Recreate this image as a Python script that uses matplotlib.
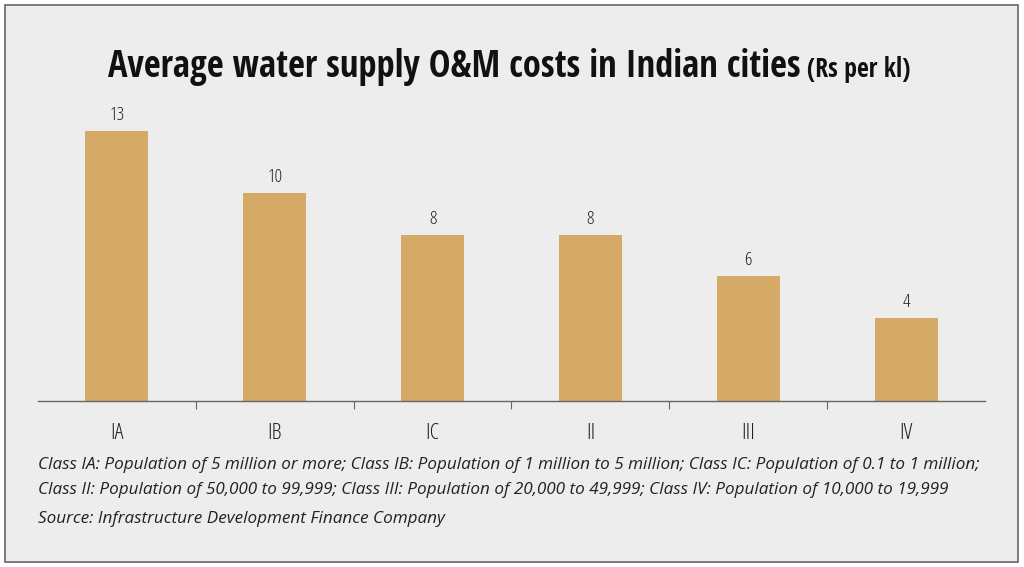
import matplotlib.pyplot as plt
from matplotlib.patches import Rectangle

categories = ["IA", "IB", "IC", "II", "III", "IV"]
costs = [13, 10, 8, 8, 6, 4]

title_main = "Average water supply O&M costs in Indian cities"
title_unit = "(Rs per kl)"
note_1 = ("Class IA: Population of 5 million or more; Class IB: Population of 1 million to 5 million; "
          "Class IC: Population of 0.1 to 1 million;")
note_2 = ("Class II: Population of 50,000 to 99,999; Class III: Population of 20,000 to 49,999; "
          "Class IV: Population of 10,000 to 19,999")
source = "Source: Infrastructure Development Finance Company"

bg = "#eeedee"
bar_col = "#d4aa66"
txt = "#222222"
narrow = ["Open Sans", "DejaVu Sans"]
heavy = ["Open Sans Condensed", "Open Sans", "DejaVu Sans"]

W, H = 1024, 567
fig = plt.figure(figsize=(W / 100, H / 100), dpi=100)
fig.patch.set_facecolor("white")

# framed panel behind everything
fig.patches.append(Rectangle((5 / W, 1 - 562 / H), 1013 / W, 557 / H,
                             transform=fig.transFigure, facecolor=bg,
                             edgecolor="#666666", linewidth=1.2, zorder=-5))

ax_left, ax_right = 38, 985
base_y, top_y = 401, 100
px_per_unit = 20.77
ax = fig.add_axes([ax_left / W, 1 - base_y / H, (ax_right - ax_left) / W, (base_y - top_y) / H])
ax.set_facecolor("none")
ax.set_zorder(2)

x = list(range(len(categories)))
ax.bar(x, costs, width=0.4, color=bar_col, zorder=2)
ax.set_xlim(-0.5, len(categories) - 0.5)
ax.set_ylim(0, (base_y - top_y) / px_per_unit)

for xi, v in zip(x, costs):
    ax.text(xi, v + 0.35, str(v), ha="center", va="bottom", fontsize=13.5,
            family=narrow, stretch="condensed", color=txt)

for s in ["top", "right", "left"]:
    ax.spines[s].set_visible(False)
ax.spines["bottom"].set_color("#666666")
ax.spines["bottom"].set_linewidth(1.0)
ax.set_yticks([])
ax.set_xticks([i + 0.5 for i in range(len(categories) - 1)])
ax.set_xticklabels([])
ax.tick_params(axis="x", length=6, width=0.8, color="#666666", direction="out")
ax.set_xticks(x, minor=True)
ax.set_xticklabels(categories, minor=True, fontsize=16, family=narrow,
                   stretch="condensed", color=txt)
ax.tick_params(axis="x", which="minor", length=0, pad=16)

t = fig.text(108 / W, 1 - 77 / H, title_main, ha="left", va="baseline", fontsize=26.3,
             fontweight="bold", stretch="condensed", family=heavy, color="#111111")
fig.canvas.draw()
bb = t.get_window_extent()
fig.text((bb.x1 + 6) / W, 1 - 77 / H, title_unit, ha="left", va="baseline", fontsize=18.5,
         fontweight="bold", stretch="condensed", family=heavy, color="#111111")

for yy, s in [(465, note_1), (490, note_2), (519, source)]:
    fig.text(38 / W, 1 - yy / H, s, ha="left", va="center", fontsize=12.3,
             style="italic", family=narrow, color=txt)

fig.savefig("out.png", dpi=100, facecolor=fig.get_facecolor())
